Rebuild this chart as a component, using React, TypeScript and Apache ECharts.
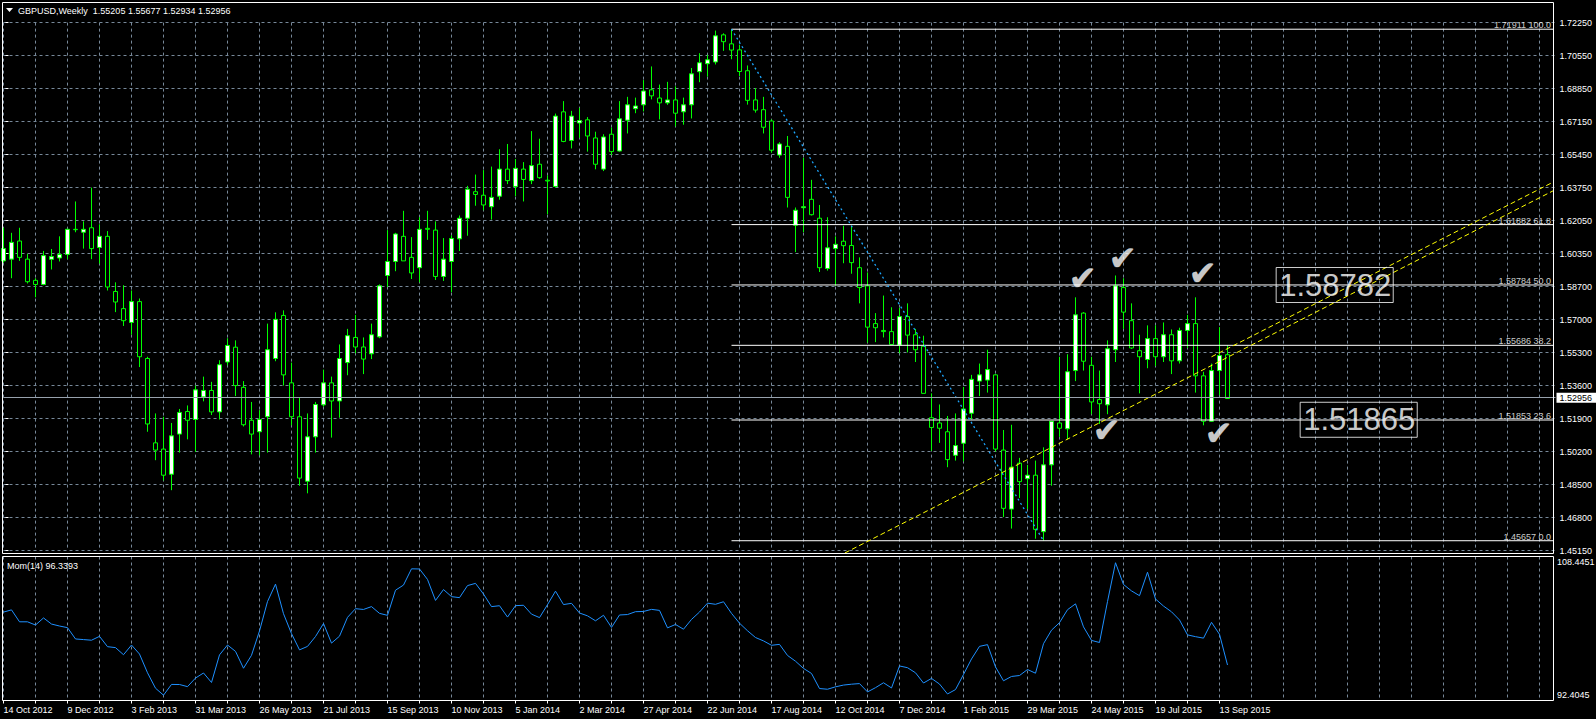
import React, { useEffect, useRef } from 'react';
import * as echarts from 'echarts';

// ---- x axis (weekly bars) ----
const dateLabels = [
  '14 Oct 2012', '9 Dec 2012', '3 Feb 2013', '31 Mar 2013', '26 May 2013', '21 Jul 2013',
  '15 Sep 2013', '10 Nov 2013', '5 Jan 2014', '2 Mar 2014', '27 Apr 2014', '22 Jun 2014',
  '17 Aug 2014', '12 Oct 2014', '7 Dec 2014', '1 Feb 2015', '29 Mar 2015', '24 May 2015',
  '19 Jul 2015', '13 Sep 2015',
];
const priceLabels = [
  '1.72250', '1.70550', '1.68850', '1.67150', '1.65450', '1.63750', '1.62050', '1.60350',
  '1.58700', '1.57000', '1.55300', '1.53600', '1.51900', '1.50200', '1.48500', '1.46800', '1.45150',
];
const momAxisLabels = ['108.4451', '92.4045'];
const momTitle = 'Mom(14) 96.3393';

// ---- GBPUSD weekly OHLC ----
const opens = [
  1.6002, 1.6011, 1.6104, 1.6011, 1.5902, 1.5881, 1.6010, 1.6017, 1.6035, 1.6164,
  1.6149, 1.6172, 1.6071, 1.6128, 1.5845, 1.5757, 1.5686, 1.5793, 1.5501, 1.5068,
  1.5036, 1.4907, 1.5113, 1.5229, 1.5188, 1.5304, 1.5337, 1.5227, 1.5483, 1.5559,
  1.5353, 1.5184, 1.5125, 1.5202, 1.5501, 1.5722, 1.5376, 1.5202, 1.4871, 1.5099,
  1.5263, 1.5376, 1.5283, 1.5480, 1.5609, 1.5560, 1.5525, 1.5612, 1.5927, 1.5999,
  1.6128, 1.6020, 1.5967, 1.6169, 1.6160, 1.5922, 1.5999, 1.6115, 1.6221, 1.6357,
  1.6339, 1.6280, 1.6334, 1.6473, 1.6384, 1.6473, 1.6414, 1.6498, 1.6416, 1.6384,
  1.6767, 1.6620, 1.6710, 1.6726, 1.6633, 1.6473, 1.6652, 1.6566, 1.6724, 1.6783,
  1.6803, 1.6880, 1.6838, 1.6813, 1.6828, 1.6767, 1.6803, 1.6973, 1.7014, 1.7023,
  1.7162, 1.7116, 1.7085, 1.6978, 1.6828, 1.6778, 1.6720, 1.6545, 1.6590, 1.6185,
  1.6275, 1.6318, 1.6221, 1.5963, 1.6065, 1.6103, 1.6081, 1.5967, 1.5874, 1.5680,
  1.5645, 1.5639, 1.5569, 1.5716, 1.5623, 1.5564, 1.5197, 1.5170, 1.5125, 1.5004,
  1.5066, 1.5220, 1.5385, 1.5390, 1.5417, 1.5031, 1.4728, 1.4964, 1.4884, 1.4902,
  1.4612, 1.4955, 1.5170, 1.5140, 1.5439, 1.5734, 1.5466, 1.5290, 1.5263, 1.5546,
  1.5865, 1.5695, 1.5541, 1.5496, 1.5603, 1.5510, 1.5623, 1.5489, 1.5645, 1.5680,
  1.5412, 1.5179, 1.5439, 1.55205,
];
const closes = [
  1.6065, 1.6097, 1.6020, 1.5895, 1.5881, 1.6029, 1.6024, 1.6035, 1.6164, 1.6162,
  1.6164, 1.6065, 1.6128, 1.5868, 1.5791, 1.5695, 1.5793, 1.5510, 1.5165, 1.5031,
  1.4902, 1.5104, 1.5224, 1.5184, 1.5340, 1.5337, 1.5227, 1.5469, 1.5568, 1.5362,
  1.5161, 1.5113, 1.5188, 1.5546, 1.5702, 1.5417, 1.5202, 1.4887, 1.5099, 1.5265,
  1.5376, 1.5283, 1.5501, 1.5618, 1.5560, 1.5498, 1.5623, 1.5874, 1.5999, 1.6140,
  1.6002, 1.5940, 1.6164, 1.6164, 1.5922, 1.6011, 1.6117, 1.6221, 1.6370, 1.6343,
  1.6289, 1.6328, 1.6473, 1.6414, 1.6477, 1.6420, 1.6491, 1.6429, 1.6412, 1.6745,
  1.6615, 1.6745, 1.6722, 1.6643, 1.6498, 1.6638, 1.6563, 1.6731, 1.6803, 1.6797,
  1.6874, 1.6849, 1.6813, 1.6828, 1.6760, 1.6803, 1.6962, 1.7019, 1.7034, 1.7157,
  1.7127, 1.7084, 1.6974, 1.6826, 1.6776, 1.6688, 1.6570, 1.6602, 1.6328, 1.6262,
  1.6280, 1.6239, 1.5967, 1.6069, 1.6087, 1.6080, 1.5993, 1.5865, 1.5662, 1.5659,
  1.5639, 1.5573, 1.5716, 1.5621, 1.5546, 1.5322, 1.5147, 1.5143, 1.4982, 1.5054,
  1.5242, 1.5394, 1.5417, 1.5444, 1.5036, 1.4732, 1.4943, 1.4869, 1.4902, 1.4624,
  1.4955, 1.5179, 1.5143, 1.5433, 1.5725, 1.5487, 1.5278, 1.5269, 1.5551, 1.5874,
  1.5739, 1.5555, 1.5510, 1.5603, 1.5510, 1.5623, 1.5489, 1.5645, 1.5680, 1.5412,
  1.5179, 1.5439, 1.5516, 1.52956,
];
const lows = [
  1.5993, 1.5913, 1.6002, 1.5886, 1.5815, 1.5877, 1.5958, 1.5999, 1.6011, 1.6149,
  1.6065, 1.6011, 1.5988, 1.5850, 1.5739, 1.5668, 1.5623, 1.5457, 1.5125, 1.4979,
  1.4875, 1.4825, 1.5018, 1.5086, 1.5022, 1.5281, 1.5211, 1.5188, 1.5466, 1.5308,
  1.5152, 1.5009, 1.5004, 1.5018, 1.5487, 1.5362, 1.5158, 1.4848, 1.4809, 1.5018,
  1.5254, 1.5095, 1.5197, 1.5415, 1.5528, 1.5421, 1.5498, 1.5605, 1.5868, 1.5949,
  1.6002, 1.5909, 1.5892, 1.6110, 1.5904, 1.5899, 1.5841, 1.6053, 1.6131, 1.6285,
  1.6262, 1.6214, 1.6316, 1.6396, 1.6334, 1.6307, 1.6396, 1.6423, 1.6241, 1.6378,
  1.6611, 1.6579, 1.6634, 1.6563, 1.6472, 1.6463, 1.6545, 1.6563, 1.6656, 1.6760,
  1.6769, 1.6831, 1.6728, 1.6803, 1.6692, 1.6701, 1.6733, 1.6919, 1.6948, 1.7010,
  1.7080, 1.7037, 1.6951, 1.6804, 1.6763, 1.6656, 1.6557, 1.6531, 1.6276, 1.6047,
  1.6149, 1.6235, 1.5945, 1.5952, 1.5874, 1.5990, 1.5936, 1.5784, 1.5582, 1.5585,
  1.5609, 1.5573, 1.5528, 1.5532, 1.5483, 1.5322, 1.5027, 1.5068, 1.4943, 1.4977,
  1.4973, 1.5188, 1.5308, 1.5326, 1.5023, 1.4687, 1.4628, 1.4785, 1.4728, 1.4576,
  1.4566, 1.4848, 1.5099, 1.5086, 1.5385, 1.5439, 1.5215, 1.5165, 1.5215, 1.5483,
  1.5653, 1.5550, 1.5322, 1.5451, 1.5462, 1.5483, 1.5421, 1.5475, 1.5555, 1.5326,
  1.5158, 1.5176, 1.5313, 1.52934,
];
const highs = [
  1.6172, 1.6146, 1.6172, 1.6038, 1.5913, 1.6053, 1.6063, 1.6128, 1.6167, 1.6307,
  1.6205, 1.6378, 1.6190, 1.6155, 1.5892, 1.5877, 1.5850, 1.5809, 1.5510, 1.5219,
  1.5202, 1.5170, 1.5242, 1.5260, 1.5362, 1.5408, 1.5381, 1.5492, 1.5605, 1.5594,
  1.5385, 1.5278, 1.5236, 1.5680, 1.5738, 1.5748, 1.5480, 1.5301, 1.5219, 1.5278,
  1.5444, 1.5408, 1.5573, 1.5653, 1.5725, 1.5609, 1.5680, 1.5881, 1.6160, 1.6146,
  1.6259, 1.6124, 1.6226, 1.6259, 1.6205, 1.6119, 1.6133, 1.6235, 1.6387, 1.6445,
  1.6468, 1.6486, 1.6575, 1.6602, 1.6525, 1.6509, 1.6668, 1.6629, 1.6441, 1.6758,
  1.6822, 1.6772, 1.6787, 1.6740, 1.6665, 1.6652, 1.6686, 1.6822, 1.6844, 1.6840,
  1.6930, 1.7000, 1.6907, 1.6921, 1.6898, 1.6840, 1.6992, 1.7068, 1.7059, 1.7184,
  1.7170, 1.7191, 1.7112, 1.7005, 1.6889, 1.6844, 1.6728, 1.6611, 1.6643, 1.6276,
  1.6531, 1.6418, 1.6289, 1.6226, 1.6128, 1.6182, 1.6182, 1.6020, 1.5943, 1.5734,
  1.5824, 1.5764, 1.5761, 1.5784, 1.5653, 1.5618, 1.5322, 1.5265, 1.5206, 1.5219,
  1.5355, 1.5417, 1.5475, 1.5546, 1.5421, 1.5134, 1.5161, 1.4991, 1.4955, 1.4977,
  1.5045, 1.5179, 1.5510, 1.5523, 1.5815, 1.5739, 1.5510, 1.5439, 1.5594, 1.5927,
  1.5913, 1.5784, 1.5623, 1.5671, 1.5671, 1.5686, 1.5650, 1.5659, 1.5725, 1.5815,
  1.5433, 1.5475, 1.5662, 1.55677,
];

// Mom(14): first 14 values (they use bars before the visible range)
const momEarly = [102.25, 102.50, 101.17, 101.17, 100.81, 101.60, 100.92, 100.70, 100.52, 99.26, 99.19, 99.12, 99.55, 98.40];
const momPeriod = 14;

// ---- drawn objects (bar index, price) ----
const bidPrice = 1.52956;
const fibLevels = [1.71911, 1.61882, 1.58784, 1.55686, 1.51853, 1.45657];
const fibPercents = ['100.0', '61.8', '50.0', '38.2', '23.6', '0.0'];
const fibStartBar = 91;
const fibTrend = [[91, 1.71911], [130, 1.45657]];
const trendLower = [[105.17, 1.45027], [193.75, 1.63626]];
const trendUpper = [[151, 1.55097], [193.75, 1.64073]];
const checkMarks = [[134.9, 1.5913], [139.9, 1.6017], [149.9, 1.5938], [137.9, 1.5132], [151.9, 1.5121]];
const boxLabels = [[166.4, 1.58782], [169.4, 1.51865]];
const lastBar = { o: '1.55205', h: '1.55677', l: '1.52934', c: '1.52956' };

const TOTAL_BARS = 195;
const FONT = '"Liberation Sans", Arial, sans-serif';
const GRID = '#778899';

export default function App() {
  const ref = useRef<HTMLDivElement>(null);
  useEffect(() => {
    const chart = echarts.init(ref.current!, null, { renderer: 'svg' });
    const cats = Array.from({ length: TOTAL_BARS }, (_, i) => String(i));
    const ohlc = opens.map((o, i) => [o, closes[i], lows[i], highs[i]]);
    const mom = closes.map((c, i) => (i < momPeriod ? momEarly[i] : (100 * c) / closes[i - momPeriod]));
    const step = (1.7225 - 1.4515) / 16;
    const lineBase = {
      type: 'line', xAxisIndex: 2, yAxisIndex: 0, symbol: 'none', showSymbol: false,
      clip: false, silent: true,
    };
    const option: any = {
      animation: false,
      backgroundColor: '#000',
      grid: [
        { left: 3.5, top: 22.6, width: 1552, height: 528 },
        { left: 3.5, top: 556.5, width: 1552, height: 144 },
      ],
      xAxis: [
        {
          gridIndex: 0, type: 'category', boundaryGap: false, data: cats,
          axisLine: { show: false }, axisTick: { show: false }, axisLabel: { show: false },
          splitLine: { show: true, interval: (i: number) => i % 4 === 0, lineStyle: { color: GRID, type: [3, 3], width: 1 } },
        },
        {
          gridIndex: 1, type: 'category', boundaryGap: false, data: cats,
          axisLine: { show: false },
          axisTick: { show: true, interval: (i: number) => i % 4 === 0 && i <= 152, length: 3, lineStyle: { color: '#fff' } },
          axisLabel: {
            show: true, interval: (i: number) => i % 8 === 0 && i <= 152, align: 'left', color: '#fff',
            fontSize: 9, fontFamily: FONT, margin: 5,
            formatter: (_v: string, i: number) => dateLabels[i / 8] || '',
          },
          splitLine: { show: true, interval: (i: number) => i % 4 === 0, lineStyle: { color: GRID, type: [3, 3], width: 1 } },
        },
        { gridIndex: 0, type: 'value', min: 0, max: TOTAL_BARS - 1, show: false },
      ],
      yAxis: [
        {
          gridIndex: 0, type: 'value', position: 'right', offset: -2, min: 1.4515, max: 1.7225, interval: step,
          axisLine: { show: false },
          axisTick: { show: true, length: 3, lineStyle: { color: '#fff' } },
          axisLabel: {
            color: '#fff', fontSize: 9, fontFamily: FONT, margin: 6,
            formatter: (v: number) => priceLabels[Math.round((1.7225 - v) / step)] || '',
          },
          splitLine: { show: true, lineStyle: { color: GRID, type: [3, 3], width: 1 } },
        },
        {
          gridIndex: 1, type: 'value', position: 'right', min: 92.4045, max: 108.4451, interval: 108.4451 - 92.4045,
          axisLine: { show: false }, axisTick: { show: false }, axisLabel: { show: false }, splitLine: { show: false },
        },
      ],
      series: [
        {
          type: 'candlestick', xAxisIndex: 0, yAxisIndex: 0, data: ohlc, barWidth: 4,
          itemStyle: {
            color: '#ffffff', color0: '#000000', borderColor: '#00ff00', borderColor0: '#00ff00',
            borderColorDoji: '#00ff00', borderWidth: 1,
          },
          markLine: {
            silent: true, symbol: 'none', animation: false,
            data: [{ yAxis: bidPrice }],
            lineStyle: { color: '#98a2ad', type: 'solid', width: 1 },
            label: {
              show: true, position: 'end', formatter: bidPrice.toFixed(5), backgroundColor: '#fff',
              color: '#000', fontSize: 9, fontFamily: FONT, padding: [1, 6, 0, 3], distance: 1,
            },
          },
          z: 2,
        },
        {
          type: 'line', xAxisIndex: 1, yAxisIndex: 1, data: mom, symbol: 'none', showSymbol: false,
          lineStyle: { color: '#1e90ff', width: 1 }, silent: true,
        },
        ...fibLevels.map((lv) => ({
          ...lineBase, data: [[fibStartBar, lv], [193.75, lv]], lineStyle: { color: '#fff', width: 1 }, z: 3,
        })),
        { ...lineBase, data: fibTrend, lineStyle: { color: '#1ea8ff', width: 1.3, type: [2, 3] }, z: 3 },
        { ...lineBase, data: trendLower, lineStyle: { color: '#ffff00', width: 1, type: [5, 3] }, z: 3 },
        { ...lineBase, data: trendUpper, lineStyle: { color: '#ffff00', width: 1, type: [5, 3] }, z: 3 },
        {
          type: 'scatter', xAxisIndex: 2, yAxisIndex: 0, symbolSize: 1, silent: true, z: 4,
          itemStyle: { color: 'rgba(0,0,0,0)' },
          data: fibLevels.map((lv, k) => ({ value: [193.5, lv], name: `${lv.toFixed(5)} ${fibPercents[k]}` })),
          label: {
            show: true, position: [0, 1], align: 'right', verticalAlign: 'bottom', formatter: '{b}',
            color: '#fff', fontSize: 9, fontFamily: FONT,
          },
        },
        {
          type: 'scatter', xAxisIndex: 2, yAxisIndex: 0, symbolSize: 1, silent: true, z: 5,
          itemStyle: { color: 'rgba(0,0,0,0)' },
          data: checkMarks,
          label: {
            show: true, position: 'inside', formatter: '\u2714', color: '#ffffff', fontSize: 34,
            fontFamily: '"DejaVu Sans", sans-serif', textBorderColor: '#9aa0a8', textBorderWidth: 0.6,
          },
        },
        {
          type: 'scatter', xAxisIndex: 2, yAxisIndex: 0, symbolSize: 1, silent: true, z: 5,
          itemStyle: { color: 'rgba(0,0,0,0)' },
          data: boxLabels.map((b) => ({ value: b, name: b[1].toFixed(5) })),
          label: {
            show: true, position: 'inside', formatter: '{b}', color: '#fff', fontSize: 31, fontFamily: FONT,
            borderColor: '#fff', borderWidth: 1, padding: [3, 2, 1, 3],
          },
        },
      ],
      graphic: [
        { type: 'rect', z: 10, silent: true, shape: { x: 2.5, y: 2.5, width: 1551, height: 551 }, style: { fill: 'none', stroke: '#fff', lineWidth: 1 } },
        { type: 'rect', z: 10, silent: true, shape: { x: 2.5, y: 556.5, width: 1551, height: 144 }, style: { fill: 'none', stroke: '#fff', lineWidth: 1 } },
        { type: 'polygon', z: 10, silent: true, shape: { points: [[6, 8], [13, 8], [9.5, 12]] }, style: { fill: '#fff' } },
        {
          type: 'text', z: 10, silent: true, x: 18, y: 10.5,
          style: {
            text: `GBPUSD,Weekly  ${lastBar.o} ${lastBar.h} ${lastBar.l} ${lastBar.c}`,
            fill: '#fff', font: `9px ${FONT}`, verticalAlign: 'middle',
          },
        },
        {
          type: 'text', z: 10, silent: true, x: 7, y: 565.5,
          style: { text: momTitle, fill: '#fff', font: `9px ${FONT}`, verticalAlign: 'middle' },
        },
        { type: 'text', z: 10, silent: true, x: 1557, y: 557.5, style: { text: momAxisLabels[0], fill: '#fff', font: `9px ${FONT}`, verticalAlign: 'top' } },
        { type: 'text', z: 10, silent: true, x: 1557, y: 699.5, style: { text: momAxisLabels[1], fill: '#fff', font: `9px ${FONT}`, verticalAlign: 'bottom' } },
      ],
    };
    chart.setOption(option);
    return () => chart.dispose();
  }, []);
  return (
    <div style={{ position: 'fixed', left: 0, top: 0, width: 1596, height: 719, background: '#000' }}>
      <div ref={ref} style={{ width: 1596, height: 719 }} />
    </div>
  );
}
